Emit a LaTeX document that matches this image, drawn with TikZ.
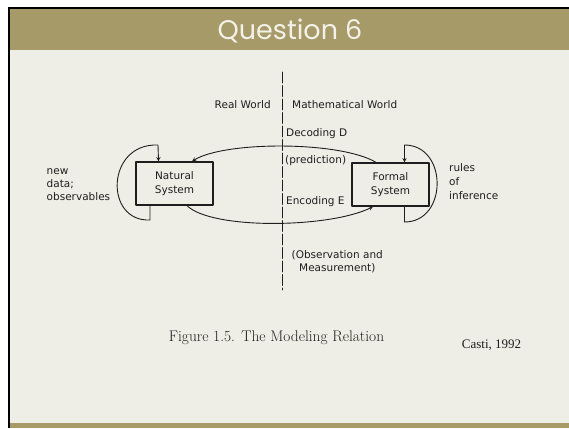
\documentclass[tikz,border=0pt]{standalone}
\usepackage{fontspec}
\newfontfamily\diagfont{DejaVu Sans}
\newfontfamily\titlefont{Poppins}
\newfontfamily\citefont{Liberation Serif}
\definecolor{slidebg}{HTML}{EFEEE6}
\definecolor{titlebar}{HTML}{A59A68}
\definecolor{titletext}{HTML}{F3F1E8}
\definecolor{inkgray}{HTML}{1E1E1E}
\begin{document}
\begin{tikzpicture}[x=1pt, y=-1pt, line cap=round, line join=round, >=stealth,
    font=\diagfont\fontsize{10.5}{13}\selectfont]
	\tikzset{sysbox/.style={draw=inkgray, line width=1.3pt, minimum width=77pt, minimum height=43pt, align=center, inner sep=0pt, text=inkgray, font=\diagfont\fontsize{10.5}{14}\selectfont},
		link/.style={draw=inkgray, line width=0.9pt},
		divider/.style={draw=inkgray, line width=0.9pt, dash pattern=on 11pt off 2.5pt},
		label text/.style={text=inkgray, inner sep=0pt}}
	% slide frame
	\useasboundingbox (0,0) rectangle (569,428);
	\fill[white] (0,0) rectangle (569,428);
	\fill[slidebg] (10,9) rectangle (569,428);
	\fill[titlebar] (10,9) rectangle (569,50);
	\fill[titlebar] (10,423) rectangle (569,428);
	\fill[black] (8,7) rectangle (569,9);
	\fill[black] (8,7) rectangle (10,428);
	\node[text=titletext, inner sep=0pt, font=\titlefont\fontsize{27}{30}\selectfont] (title) at (290,31) {Question 6};
	% the two systems
	\node[sysbox] (natural) at (174.5,183.5) {Natural\\System};
	\node[sysbox] (formal) at (390.5,184.5) {Formal\\System};
	\coordinate (divtop) at (282,72);
	\coordinate (divbot) at (282,290);
	\draw[divider] (divtop) -- (divbot);
	% labels
	\node[label text, anchor=east] (real) at (271,105) {Real World};
	\node[label text, anchor=west] (math) at (292,105) {Mathematical World};
	\node[label text, anchor=west] (decoding) at (286,134) {Decoding D};
	\node[label text, anchor=west] (predict) at (285,160.5) {(prediction)};
	\node[label text, anchor=west] (encoding) at (286,202) {Encoding E};
	\node[label text, anchor=west] (observe) at (291.5,255) {(Observation and};
	\node[label text, anchor=west] (measure) at (299,268) {Measurement)};
	\node[label text, anchor=west, align=left] (newdata) at (46.5,184.5) {new\\data;\\observables};
	\node[label text, anchor=west, align=left, font=\diagfont\fontsize{10.5}{14}\selectfont] (rules) at (449,181.5) {rules\\of\\inference};
	% connectors
	\draw[link, ->] ([xshift=-14.5pt]formal.north) .. controls (340,141) and (225,141) .. ([xshift=17.5pt]natural.north);
	\draw[link, ->] ([xshift=12.5pt]natural.south) .. controls (212,230) and (330,228) .. ([xshift=-17.5pt]formal.south);
	\draw[link, ->] ([xshift=-24.5pt]natural.south) -- (150,220) .. controls (104,222) and (106,143) .. (158,145) -- ([xshift=-16pt]natural.north);
	\draw[link, ->] ([xshift=14pt]formal.south) -- (404.5,222) .. controls (448,222) and (448,145) .. (404.5,145) -- ([xshift=14pt]formal.north);
	% caption
	\node[text=inkgray, inner sep=0pt, font=\rmfamily\fontsize{15.4}{17}\selectfont] (caption) at (276.5,338) {Figure 1.5. The Modeling Relation};
	\node[text=inkgray, inner sep=0pt, font=\citefont\fontsize{13}{15}\selectfont] (casti) at (491.5,345) {Casti, 1992};
\end{tikzpicture}
\end{document}
